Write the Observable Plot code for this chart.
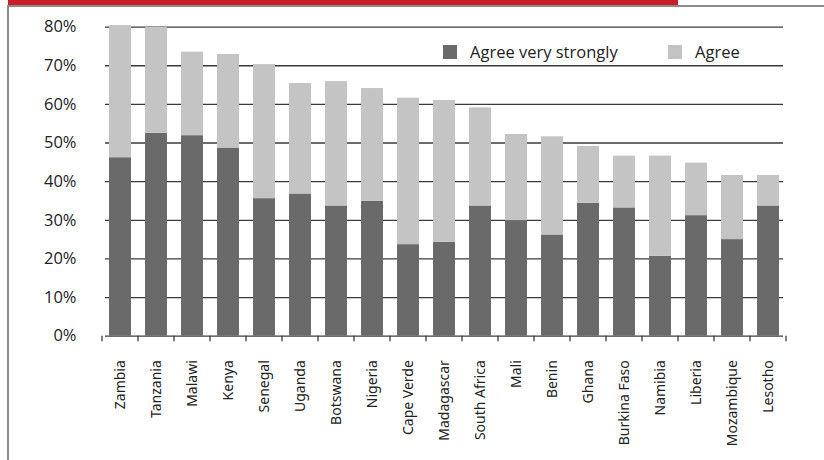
<!DOCTYPE html>
<html>
<head>
<meta charset="utf-8">
<script src="https://cdn.jsdelivr.net/npm/d3@7"></script>
<script src="https://cdn.jsdelivr.net/npm/@observablehq/plot@0.6"></script>
<style>
  html, body { margin: 0; padding: 0; background: #fff; }
  #wrap { position: relative; width: 824px; height: 460px; overflow: hidden; background: #fff; }
  #chart { position: absolute; left: 0; top: 0; z-index: 1; }
  #redbar { position: absolute; left: 8px; top: 0; width: 670px; height: 5px; background: #c81e28; z-index: 10; }
  #topline { position: absolute; left: 7px; top: 5px; width: 817px; height: 2px; background: #8c8c8c; z-index: 10; }
  #leftline { position: absolute; left: 7px; top: 5px; width: 2px; height: 455px; background: #8c8c8c; z-index: 10; }
  .leg { position: absolute; top: 41px; font-family: "Open Sans", sans-serif; font-size: 16.5px; color: #222; line-height: 22px; display: flex; align-items: center; z-index: 10; }
  .leg .sw { width: 14px; height: 14px; margin-right: 13px; }
</style>
</head>
<body>
<div id="wrap">
  <div id="chart"></div>
  <div id="redbar"></div>
  <div id="topline"></div>
  <div id="leftline"></div>
  <div class="leg" id="leg0" style="left:443px"><span class="sw"></span><span class="tx"></span></div>
  <div class="leg" id="leg1" style="left:668px"><span class="sw"></span><span class="tx"></span></div>
</div>
<script>
const countries = ["Zambia","Tanzania","Malawi","Kenya","Senegal","Uganda","Botswana","Nigeria","Cape Verde","Madagascar","South Africa","Mali","Benin","Ghana","Burkina Faso","Namibia","Liberia","Mozambique","Lesotho"];
const agreeVeryStrongly = [46.2,52.5,51.9,48.7,35.6,36.8,33.7,34.9,23.7,24.3,33.7,29.9,26.2,34.4,33.2,20.7,31.2,25.0,33.7];
const agree = [34.2,27.4,21.6,24.2,34.7,28.6,32.2,29.2,37.9,36.7,25.4,22.3,25.4,14.7,13.4,25.9,13.6,16.6,7.9];
const seriesNames = ["Agree very strongly","Agree"];
const seriesColors = ["#6a6a6a","#c4c4c4"];
const yTicks = [0,10,20,30,40,50,60,70,80];

const rows = [];
countries.forEach((c, i) => {
  rows.push({country: c, series: seriesNames[0], value: agreeVeryStrongly[i]});
  rows.push({country: c, series: seriesNames[1], value: agree[i]});
});

const plot = Plot.plot({
  width: 824,
  height: 460,
  marginLeft: 105,
  marginRight: 41,
  marginTop: 26.6,
  marginBottom: 124.3,
  style: {background: "transparent", overflow: "visible"},
  x: {domain: countries, paddingInner: 0.39, paddingOuter: 0.08, axis: null},
  y: {domain: [0, 80], axis: null},
  color: {domain: seriesNames, range: seriesColors},
  marks: [
    Plot.ruleY(yTicks, {stroke: "#3a3a3a", strokeWidth: 1.3}),
    Plot.barY(rows, {x: "country", y: "value", fill: "series", order: seriesNames}),
    Plot.axisX({tickRotate: -90, tickSize: 0, tickPadding: 24, fontSize: 14, fill: "#222", label: null}),
    Plot.axisY({ticks: yTicks, tickSize: 0, tickPadding: 29, tickFormat: d => d + "%", fontSize: 16.5, fill: "#222", label: null})
  ]
});

document.getElementById("chart").appendChild(plot);

// font family of the y axis labels
d3.select(plot).selectAll('g[aria-label="y-axis tick label"]').attr("font-family", "Open Sans, sans-serif");

// band-boundary tick marks under the baseline, derived from the x and y scales
const xs = plot.scale("x");
const ys = plot.scale("y");
const gap = (xs.step - xs.bandwidth) / 2;
const bounds = countries.map(c => xs.apply(c) - gap);
bounds.push(xs.apply(countries[countries.length - 1]) + xs.bandwidth + gap);
const y0 = ys.apply(0);
d3.select(plot).append("g")
  .selectAll("line").data(bounds).join("line")
  .attr("x1", d => d).attr("x2", d => d)
  .attr("y1", y0).attr("y2", y0 + 5.5)
  .attr("stroke", "#3a3a3a").attr("stroke-width", 1.3);

// legend
seriesNames.forEach((s, i) => {
  const el = document.getElementById("leg" + i);
  el.querySelector(".sw").style.background = seriesColors[i];
  el.querySelector(".tx").textContent = s;
});
</script>
</body>
</html>
